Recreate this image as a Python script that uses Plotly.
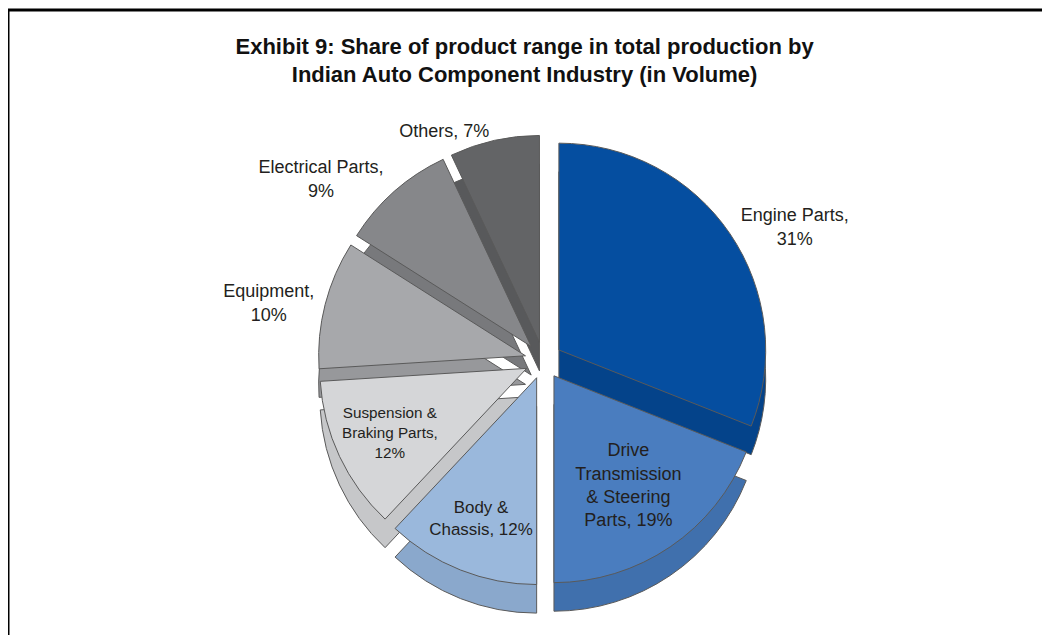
import plotly.graph_objects as go

# Data
categories = ["Engine Parts", "Drive Transmission & Steering Parts", "Body & Chassis",
              "Suspension & Braking Parts", "Equipment", "Electrical Parts", "Others"]
shares = [31, 19, 12, 12, 10, 9, 7]
label_text = ["Engine Parts,<br>31%", "Drive<br>Transmission<br>& Steering<br>Parts, 19%",
              "Body &<br>Chassis, 12%", "Suspension &<br>Braking Parts,<br>12%",
              "Equipment,<br>10%", "Electrical Parts,<br>9%", "Others, 7%"]
label_pos = ["outside", "inside", "inside", "inside", "outside", "outside", "outside"]

top_colors = ["#054ea0", "#4a7dbf", "#9ab8dc", "#d5d6d8", "#a7a8ab", "#86878a", "#636466"]
side_colors = ["#04438a", "#4070ad", "#8aa8cc", "#c6c7c9", "#97989b", "#78797c", "#58595b"]

FONT = "Liberation Sans, Arial, Helvetica, sans-serif"
pull = [0.09] * len(shares)

dom_x = [0.17, 0.85]
dom_y = [0.09, 0.80]
depth = 0.045

fig = go.Figure()
# Side/depth layer (same data, shifted down)
fig.add_trace(go.Pie(
    labels=categories, values=shares, sort=False, direction="clockwise", rotation=0,
    pull=pull, marker=dict(colors=side_colors, line=dict(color="#5a5a5a", width=1)),
    textinfo="none", hoverinfo="skip", showlegend=False, automargin=False,
    domain=dict(x=dom_x, y=[dom_y[0] - depth, dom_y[1] - depth]),
))
# Top layer
fig.add_trace(go.Pie(
    labels=categories, values=shares, sort=False, direction="clockwise", rotation=0,
    pull=pull, marker=dict(colors=top_colors, line=dict(color="#5a5a5a", width=1)),
    text=label_text, textinfo="text", textposition=label_pos,
    insidetextorientation="horizontal", automargin=False,
    textfont=dict(family=FONT, size=18, color="#231f20"),
    outsidetextfont=dict(family=FONT, size=18, color="#231f20"),
    insidetextfont=dict(family=FONT, size=18, color="#231f20"),
    hovertemplate="%{label}: %{value}%<extra></extra>",
    showlegend=False,
    domain=dict(x=dom_x, y=dom_y),
))

fig.update_layout(
    width=1050, height=635,
    margin=dict(l=0, r=0, t=0, b=0, autoexpand=False),
    paper_bgcolor="white", plot_bgcolor="white",
    title=dict(
        text="<b>Exhibit 9: Share of product range in total production by<br>Indian Auto Component Industry (in Volume)</b>",
        x=0.492, xanchor="center", y=0.928, yanchor="top",
        font=dict(family=FONT, size=22, color="#111"),
    ),
    shapes=[dict(type="rect", xref="paper", yref="paper",
                 x0=0.0, x1=1.05, y0=-0.05, y1=1 - 2 / 635,
                 line=dict(color="black", width=3), fillcolor="rgba(0,0,0,0)")],
)

fig.write_html("out.html")
